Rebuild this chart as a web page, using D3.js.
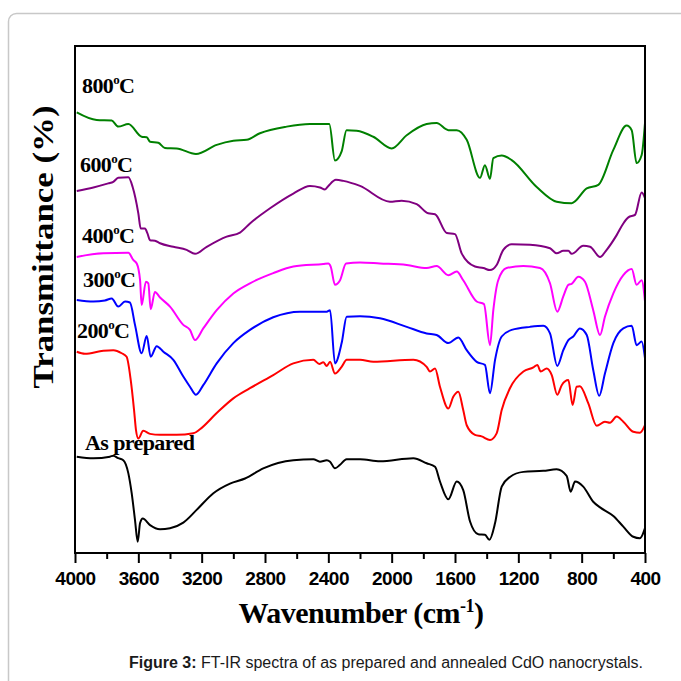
<!DOCTYPE html>
<html>
<head>
<meta charset="utf-8">
<script src="https://cdn.jsdelivr.net/npm/d3@7"></script>
<style>
  body { margin: 0; background: #fff; }
  svg { display: block; }
</style>
</head>
<body>
<svg id="chart" width="681" height="681"></svg>
<script>
// FT-IR spectra, values (wavenumber, transmittance a.u.)
const s800 = [[3989,86.9],[3863,85.4],[3768,85.3],[3727,84.1],[3663,84.6],[3579,82.1],[3547,82.0],[3526,81.1],[3474,80.9],[3432,79.9],[3358,79.8],[3236,78.7],[3105,80.5],[3000,81.3],[2916,81.5],[2832,82.8],[2663,84.1],[2516,84.6],[2394,84.6],[2358,77.4],[2316,79.2],[2285,83.4],[2221,83.3],[2116,82.1],[2000,79.8],[1905,82.4],[1779,84.6],[1716,84.8],[1642,83.4],[1589,83.4],[1526,81.5],[1442,74.0],[1411,76.5],[1379,73.8],[1358,77.9],[1305,78.4],[1242,77.5],[1084,72.2],[958,69.3],[863,69.0],[768,71.9],[695,72.6],[600,79.5],[516,84.3],[484,83.4],[453,76.9],[421,78.5],[400,84.8]];
const s600 = [[3989,71.4],[3884,72.1],[3790,72.9],[3758,73.2],[3727,74.0],[3663,74.1],[3636,72.2],[3600,67.0],[3585,64.0],[3558,64.0],[3543,63.1],[3526,61.7],[3495,61.6],[3463,61.1],[3379,60.4],[3295,59.8],[3242,59.0],[3168,60.4],[3042,62.4],[2958,63.2],[2895,65.0],[2768,68.0],[2621,70.9],[2516,72.4],[2453,72.1],[2421,71.7],[2400,72.4],[2352,73.6],[2305,73.4],[2200,72.4],[2011,69.3],[1937,69.5],[1842,68.8],[1769,67.0],[1726,66.8],[1652,63.1],[1600,62.9],[1558,59.1],[1474,56.5],[1421,56.2],[1379,55.8],[1337,56.8],[1295,59.8],[1242,60.9],[1126,60.8],[1000,60.1],[958,59.1],[916,59.6],[884,59.6],[863,59.0],[790,60.6],[747,60.4],[684,58.4],[642,59.8],[579,62.7],[537,65.0],[505,66.2],[463,66.7],[421,71.1],[400,70.0]];
const s400 = [[3989,58.4],[3821,59.1],[3663,59.2],[3632,57.8],[3610,57.1],[3589,53.8],[3579,48.9],[3552,53.5],[3537,53.2],[3522,48.1],[3495,51.5],[3463,50.4],[3400,48.6],[3316,45.0],[3274,44.0],[3242,42.0],[3190,44.3],[3105,47.9],[3000,51.2],[2895,53.2],[2748,55.2],[2621,56.5],[2432,57.0],[2400,57.1],[2385,56.5],[2358,52.9],[2326,53.8],[2288,57.1],[2200,57.3],[2074,57.1],[1905,56.8],[1779,56.2],[1716,56.6],[1642,54.8],[1589,55.5],[1548,53.8],[1463,49.6],[1417,49.1],[1379,41.0],[1358,47.9],[1327,53.8],[1274,56.2],[1169,56.6],[1063,56.2],[1000,53.2],[954,47.6],[916,50.6],[884,52.9],[863,53.1],[821,54.5],[779,53.5],[727,47.9],[684,43.0],[653,46.6],[600,51.2],[537,54.8],[484,56.0],[453,52.9],[421,53.8],[400,49.6]];
const s300 = [[3989,49.9],[3884,49.6],[3811,49.8],[3768,50.2],[3727,48.6],[3684,49.6],[3653,49.4],[3621,45.0],[3579,39.4],[3547,42.8],[3522,38.7],[3484,40.8],[3442,39.7],[3379,38.1],[3316,34.8],[3274,32.8],[3236,31.2],[3190,33.1],[3105,37.4],[3000,41.4],[2895,44.0],[2748,46.5],[2579,47.6],[2410,47.6],[2389,47.9],[2358,37.4],[2316,41.4],[2284,46.6],[2200,46.7],[2074,46.3],[1905,44.6],[1779,43.3],[1716,43.0],[1642,41.4],[1579,42.5],[1526,40.0],[1463,37.7],[1411,37.1],[1379,31.5],[1347,38.1],[1305,42.7],[1242,44.0],[1126,44.6],[1042,44.8],[1000,43.3],[954,36.9],[916,40.0],[884,42.0],[853,42.7],[811,44.3],[768,43.0],[727,36.1],[689,31.0],[653,35.4],[600,41.4],[537,44.3],[484,44.8],[453,41.0],[421,41.7],[400,38.4]];
const s200 = [[3989,39.7],[3937,39.3],[3821,39.9],[3758,40.0],[3705,39.4],[3674,38.7],[3648,34.1],[3627,28.2],[3615,24.3],[3600,22.6],[3569,24.1],[3526,23.5],[3463,23.3],[3358,23.3],[3253,23.6],[3211,24.4],[3105,27.6],[3000,30.5],[2895,32.5],[2748,35.1],[2621,37.4],[2495,38.1],[2457,37.3],[2432,37.6],[2410,36.9],[2389,37.7],[2358,35.4],[2316,36.7],[2284,38.1],[2200,38.1],[2116,37.7],[1863,38.1],[1779,36.7],[1758,35.8],[1726,36.4],[1695,32.8],[1642,28.5],[1611,30.8],[1579,31.8],[1548,28.2],[1526,25.2],[1474,23.3],[1432,23.0],[1379,22.3],[1337,23.6],[1305,28.2],[1253,32.5],[1168,35.8],[1105,36.6],[1080,37.1],[1059,35.8],[1021,36.4],[989,35.1],[954,31.2],[926,33.1],[884,34.1],[857,29.2],[832,32.8],[811,32.9],[758,29.5],[705,25.1],[653,25.9],[621,25.7],[579,26.9],[537,25.9],[474,23.9],[432,23.7],[400,25.2]];
const sAsPrep = [[3989,19.0],[3884,18.7],[3779,19.0],[3758,19.2],[3727,18.7],[3695,18.3],[3663,15.7],[3642,11.8],[3621,6.5],[3604,2.2],[3589,5.9],[3572,6.8],[3526,5.5],[3463,4.7],[3400,4.9],[3316,6.0],[3232,8.5],[3126,11.8],[3021,13.7],[2926,14.7],[2811,16.7],[2621,18.3],[2495,18.5],[2453,18.0],[2410,18.3],[2389,18.0],[2358,16.7],[2326,17.4],[2285,18.5],[2200,18.5],[2074,18.1],[1863,18.7],[1779,17.7],[1726,17.0],[1695,14.1],[1642,10.6],[1589,14.1],[1548,12.4],[1505,6.2],[1453,3.7],[1411,3.6],[1383,2.6],[1347,5.9],[1305,13.1],[1253,15.0],[1168,16.0],[1042,16.2],[958,16.5],[895,15.2],[869,12.1],[842,14.1],[790,13.1],[727,10.1],[684,9.0],[600,7.3],[537,5.2],[474,3.2],[432,2.9],[400,4.9]];

const seriesNames = ["800", "600", "400", "300", "200", "As prepared"];
const seriesColors = ["#008000", "#800080", "#ff00ff", "#0000ff", "#ff0000", "#000000"];
const seriesData = [s800, s600, s400, s300, s200, sAsPrep];
const majorTicks = [4000, 3600, 3200, 2800, 2400, 2000, 1600, 1200, 800, 400];
const minorTicks = [3800, 3400, 3000, 2600, 2200, 1800, 1400, 1000, 600];

const svg = d3.select("#chart");

// outer figure frame
svg.append("rect")
  .attr("x", 8.5).attr("y", 13.5)
  .attr("width", 700).attr("height", 720)
  .attr("rx", 8)
  .attr("fill", "none")
  .attr("stroke", "#c8c8c8")
  .attr("stroke-width", 1.5);

const margin = { left: 75, right: 645, top: 46, bottom: 553 };

const x = d3.scaleLinear().domain([4000, 400]).range([margin.left, margin.right]);
const y = d3.scaleLinear().domain([0, 100]).range([margin.bottom, margin.top]);

svg.append("clipPath").attr("id", "plotClip")
  .append("rect")
  .attr("x", margin.left).attr("y", margin.top)
  .attr("width", margin.right - margin.left).attr("height", margin.bottom - margin.top);

const line = d3.line()
  .x(d => x(d[0]))
  .y(d => y(d[1]))
  .curve(d3.curveMonotoneX);

svg.append("g")
  .attr("clip-path", "url(#plotClip)")
  .selectAll("path")
  .data(seriesData)
  .join("path")
  .attr("d", line)
  .attr("fill", "none")
  .attr("stroke", (d, i) => seriesColors[i])
  .attr("stroke-width", 2)
  .attr("stroke-linejoin", "round");

// plot box
svg.append("rect")
  .attr("x", margin.left).attr("y", margin.top)
  .attr("width", margin.right - margin.left).attr("height", margin.bottom - margin.top)
  .attr("fill", "none")
  .attr("stroke", "#000")
  .attr("stroke-width", 2);

// x axis: major ticks with labels, minor ticks without
const xAxis = svg.append("g")
  .attr("transform", `translate(0,${margin.bottom})`)
  .call(d3.axisBottom(x).tickValues(majorTicks).tickSize(10).tickPadding(9).tickFormat(d3.format("d")));
xAxis.select(".domain").remove();
xAxis.selectAll(".tick line").attr("stroke-width", 2);
xAxis.selectAll("text")
  .attr("fill", "#000")
  .attr("font-family", "Liberation Sans, Arial, sans-serif")
  .attr("font-weight", "bold")
  .attr("font-size", "19px")
  .attr("letter-spacing", "-0.5px");

const xMinor = svg.append("g")
  .attr("transform", `translate(0,${margin.bottom})`)
  .call(d3.axisBottom(x).tickValues(minorTicks).tickSize(6).tickFormat(""));
xMinor.select(".domain").remove();
xMinor.selectAll(".tick line").attr("stroke-width", 2);

// axis titles
const xTitle = svg.append("text")
  .attr("x", 361).attr("y", 623)
  .attr("text-anchor", "middle")
  .attr("font-family", "Liberation Serif, Times New Roman, serif")
  .attr("font-weight", "bold")
  .attr("font-size", "30px")
  .attr("letter-spacing", "-0.5px");
xTitle.append("tspan").text("Wavenumber (cm");
xTitle.append("tspan").attr("dy", -11).attr("font-size", "18px").text("-1");
xTitle.append("tspan").attr("dy", 11).text(")");

svg.append("text")
  .attr("transform", "translate(53,247) rotate(-90)")
  .attr("text-anchor", "middle")
  .attr("font-family", "Liberation Serif, Times New Roman, serif")
  .attr("font-weight", "bold")
  .attr("font-size", "30px")
  .attr("textLength", 283)
  .attr("lengthAdjust", "spacingAndGlyphs")
  .text("Transmittance (%)");

// curve labels
const labelPos = [[82, 93], [80, 172], [82, 243], [83, 287], [77, 338], [85, 450]];
seriesNames.forEach((name, i) => {
  const t = svg.append("text")
    .attr("x", labelPos[i][0]).attr("y", labelPos[i][1])
    .attr("font-family", "Liberation Serif, Times New Roman, serif")
    .attr("font-weight", "bold")
    .attr("font-size", "22px")
    .attr("letter-spacing", "-0.6px")
    .attr("fill", "#000");
  if (name === "As prepared") {
    t.text(name);
  } else {
    t.append("tspan").text(name);
    t.append("tspan").attr("dy", -9).attr("font-size", "13px").text("o");
    t.append("tspan").attr("dy", 9).text("C");
  }
});

// caption
const cap = svg.append("text")
  .attr("x", 129).attr("y", 668)
  .attr("font-family", "Liberation Sans, Arial, sans-serif")
  .attr("font-size", "16px")
  .attr("fill", "#1a1a1a");
cap.append("tspan").attr("font-weight", "bold").text("Figure 3:");
cap.append("tspan").text(" FT-IR spectra of as prepared and annealed CdO nanocrystals.");
</script>
</body>
</html>
